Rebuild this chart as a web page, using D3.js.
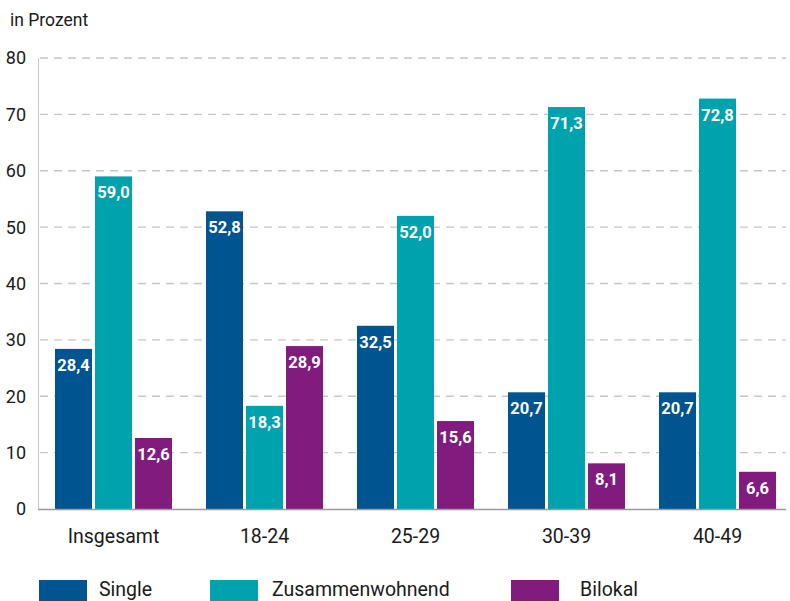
<!DOCTYPE html>
<html><head><meta charset="utf-8">
<script src="https://cdn.jsdelivr.net/npm/d3@7"></script>
<style>body{margin:0;background:#fff;} svg{display:block;font-family:Roboto, "DejaVu Sans", sans-serif;}</style>
</head><body><svg id="c" width="790" height="601"></svg>
<script>
const categories = ["Insgesamt","18-24","25-29","30-39","40-49"];
const seriesNames = ["Single","Zusammenwohnend","Bilokal"];
const single = [28.4,52.8,32.5,20.7,20.7];
const zusammen = [59.0,18.3,52.0,71.3,72.8];
const bilokal = [12.6,28.9,15.6,8.1,6.6];
const yTicks = [0,10,20,30,40,50,60,70,80];
const colors = ["#00548f","#00a3ad","#811c7e"];

const svg = d3.select("#c");
const x0 = d3.scaleBand().domain(categories).range([38,793]).paddingInner(0.225).paddingOuter(0.1125);
const x1 = d3.scaleBand().domain(seriesNames).range([0,x0.bandwidth()]).paddingInner(0.075);
const y = d3.scaleLinear().domain([0,80]).range([509,58]);

// grid
svg.append("g").selectAll("line").data(yTicks.filter(d=>d>0)).join("line")
  .attr("x1",40).attr("x2",786).attr("y1",d=>y(d)).attr("y2",d=>y(d))
  .attr("stroke","#c6c6c6").attr("stroke-width",1.3).attr("stroke-dasharray","8,6");
// y axis line
svg.append("line").attr("x1",38.5).attr("x2",38.5).attr("y1",y(80)).attr("y2",y(0))
  .attr("stroke","#c8c8c8").attr("stroke-width",1);
// y tick labels
svg.append("g").selectAll("text").data(yTicks).join("text")
  .attr("x",26).attr("y",d=>y(d)).attr("dy","0.36em").attr("text-anchor","end")
  .attr("font-size",18).attr("fill","#1a1a1a").text(d=>d);

const data = categories.map((c,i)=>({cat:c, vals:[single[i],zusammen[i],bilokal[i]]}));
const g = svg.append("g").selectAll("g").data(data).join("g")
  .attr("transform",d=>`translate(${x0(d.cat)},0)`);
const bars = g.selectAll("g").data(d=>d.vals.map((v,j)=>({s:seriesNames[j],v,j}))).join("g");
bars.append("rect").attr("x",d=>x1(d.s)).attr("width",x1.bandwidth())
  .attr("y",d=>y(d.v)).attr("height",d=>y(0)-y(d.v)).attr("fill",d=>colors[d.j]);
bars.append("text").attr("x",d=>x1(d.s)+x1.bandwidth()/2).attr("y",d=>y(d.v)+22)
  .attr("text-anchor","middle").attr("font-size",16.5).attr("font-weight","bold")
  .attr("fill","#fff").text(d=>d.v.toFixed(1).replace(".",","));

// baseline
svg.append("line").attr("x1",38).attr("x2",786).attr("y1",y(0)+0.5).attr("y2",y(0)+0.5)
  .attr("stroke","#9a9a9a").attr("stroke-width",1.5);

// x labels
svg.append("g").selectAll("text").data(categories).join("text")
  .attr("x",d=>x0(d)+x0.bandwidth()/2).attr("y",543).attr("text-anchor","middle")
  .attr("font-size",19.5).attr("fill","#1a1a1a").text(d=>d);

svg.append("text").attr("x",10).attr("y",26).attr("font-size",17.5).attr("fill","#1a1a1a").text("in Prozent");

// legend
const legX = [39,210,511];
const legT = [60,62,69];
const lg = svg.append("g").selectAll("g").data(seriesNames).join("g")
  .attr("transform",(d,i)=>`translate(${legX[i]},580)`);
lg.append("rect").attr("width",48).attr("height",21).attr("fill",(d,i)=>colors[i]);
lg.append("text").attr("x",(d,i)=>legT[i]).attr("y",15.5).attr("font-size",19.5)
  .attr("fill","#1a1a1a").text(d=>d);
</script></body></html>
